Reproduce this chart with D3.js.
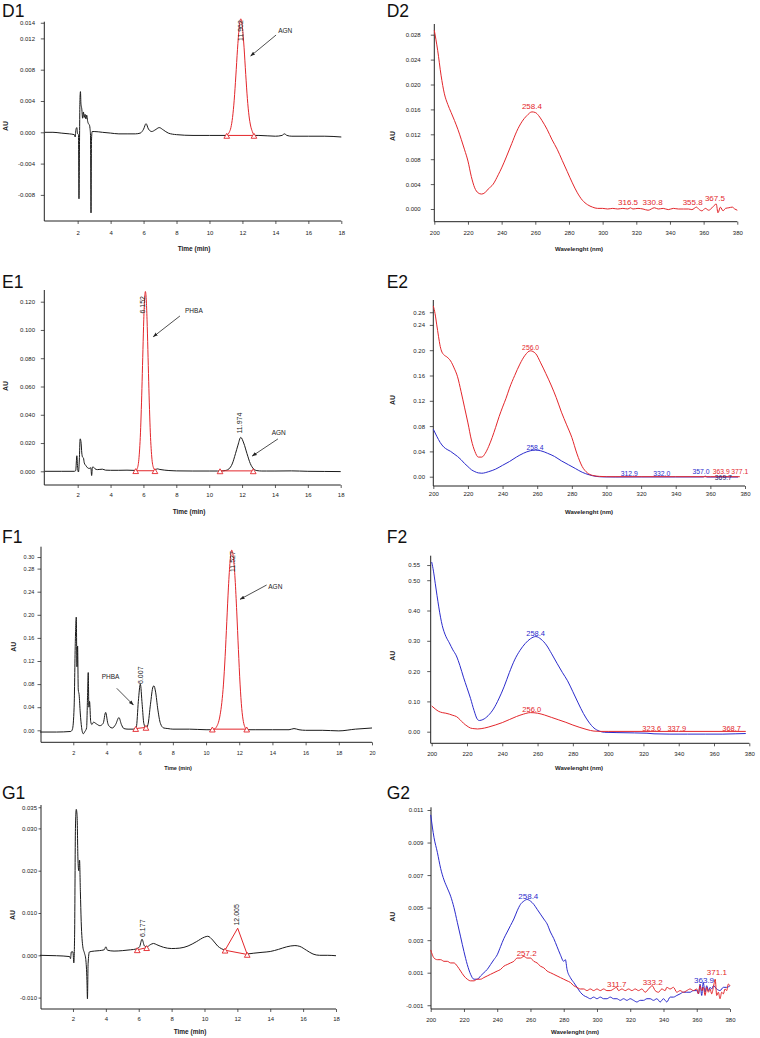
<!DOCTYPE html>
<html><head><meta charset="utf-8">
<script src="https://cdn.jsdelivr.net/npm/d3@7"></script>
<style>body{margin:0;background:#fff}svg{display:block}text{font-family:Arial,"Liberation Sans",sans-serif}</style>
</head><body><svg id="c" width="760" height="1038"></svg>
<script>
// ---------------- DATA ----------------
const chromTicks18 = [2,4,6,8,10,12,14,16,18];
const chromTicks20 = [2,4,6,8,10,12,14,16,18,20];
const specTicks = [200,220,240,260,280,300,320,340,360,380];
const specTickLabels = ["200","220","240","260","280","300","320","340","360","380"];

const d1YTicks = [0.014,0.012,0.008,0.004,0,-0.004,-0.008];
const d1YLabels = ["0.014","0.012","0.008","0.004","0.000","-0.004","-0.008"];
const d2YTicks = [0,0.004,0.008,0.012,0.016,0.020,0.024,0.028];
const d2YLabels = ["0.000","0.004","0.008","0.012","0.016","0.020","0.024","0.028"];
const e1YTicks = [0,0.02,0.04,0.06,0.08,0.10,0.12];
const e1YLabels = ["0.000","0.020","0.040","0.060","0.080","0.100","0.120"];
const e2YTicks = [0,0.04,0.08,0.12,0.16,0.20,0.24,0.26];
const e2YLabels = ["0.00","0.04","0.08","0.12","0.16","0.20","0.24","0.26"];
const f1YTicks = [0,0.04,0.08,0.12,0.16,0.20,0.24,0.28,0.30];
const f1YLabels = ["0.00","0.04","0.08","0.12","0.16","0.20","0.24","0.28","0.30"];
const f2YTicks = [0,0.1,0.2,0.3,0.4,0.5,0.55];
const f2YLabels = ["0.00","0.10","0.20","0.30","0.40","0.50","0.55"];
const g1YTicks = [-0.010,0,0.010,0.020,0.030,0.035];
const g1YLabels = ["-0.010","0.000","0.010","0.020","0.030","0.035"];
const g2YTicks = [-0.001,0.001,0.003,0.005,0.007,0.009,0.011];
const g2YLabels = ["-0.001","0.001","0.003","0.005","0.007","0.009","0.011"];

// D1 chromatogram (time min, AU)
const d1Black = [[0,0.0000],[0.5,0.0000],[1.0,-0.0001],[1.5,-0.0002],[1.8,-0.0003],[1.85,-0.0006],[1.9,0.0004],[1.95,0.0006],[2.0,-0.0002],[2.05,-0.0003],[2.08,-0.0085],[2.11,-0.0020],[2.14,0.0042],[2.17,0.0052],[2.2,0.0036],[2.25,0.0030],[2.3,0.0018],[2.35,0.0026],[2.4,0.0019],[2.45,0.0023],[2.5,0.0017],[2.55,0.0022],[2.6,0.0015],[2.65,0.0011],[2.7,0.0010],[2.75,0.0005],[2.78,-0.0004],[2.81,-0.0103],[2.84,-0.0010],[2.88,0.0001],[3.0,0.0001],[3.5,0.0000],[4.0,-0.0001],[4.5,-0.0002],[5.0,-0.0002],[5.5,-0.0002],[5.8,-0.0001],[6.0,0.0004],[6.15,0.0011],[6.3,0.0004],[6.5,0.0001],[6.7,0.0003],[6.95,0.0006],[7.2,0.0003],[7.5,-0.0001],[8,-0.0003],[9,-0.0004],[10,-0.0004],[11.0,-0.0004],[11.8,null],[12.7,-0.0004],[13,-0.0004],[14,-0.0005],[14.4,-0.0004],[14.55,-0.0002],[14.7,-0.0004],[15,-0.0005],[16,-0.0005],[17,-0.0005],[18,-0.0006]];
const d1Red = [[11.0,-0.0004],[11.1,-0.0003],[11.2,0.0000],[11.3,0.0006],[11.4,0.0019],[11.5,0.0041],[11.6,0.0072],[11.7,0.0106],[11.8,0.0133],[11.9,0.0145],[12.0,0.0134],[12.1,0.0108],[12.2,0.0074],[12.3,0.0043],[12.4,0.0021],[12.5,0.0008],[12.6,0.0001],[12.7,-0.0004]];
const d1Base = [[11.05,-0.0004],[12.7,-0.0004]];

// D2 spectrum (nm, AU)
const d2Red = [[200,0.0287],[202,0.0255],[204,0.0215],[206,0.0185],[208,0.0168],[210,0.0155],[212,0.0142],[214,0.0128],[216,0.0112],[218,0.0095],[220,0.0077],[222,0.0052],[224,0.0034],[226,0.0026],[228,0.0024],[230,0.0026],[232,0.0032],[235,0.0040],[238,0.0055],[240,0.0066],[243,0.0085],[246,0.0105],[249,0.0125],[252,0.0140],[255,0.0150],[258,0.0156],[260,0.0155],[262,0.0150],[264,0.0142],[267,0.0128],[270,0.0111],[273,0.0096],[276,0.0078],[279,0.0060],[282,0.0042],[285,0.0026],[288,0.0014],[291,0.0007],[294,0.0003],[297,0.0001],[300,0.0001],[303,0.0000],[306,0.0001],[309,0.0000],[312,0.0001],[315,0.0000],[316.5,0.0002],[318,0.0000],[321,0.0001],[324,0.0000],[327,-0.0002],[330.8,0.0002],[333,0.0000],[336,0.0001],[339,-0.0001],[342,0.0001],[345,0.0000],[348,0.0000],[351,0.0000],[353,-0.0001],[355.8,0.0003],[357,0.0000],[359,-0.0003],[361,0.0001],[363,-0.0002],[365,0.0002],[367.5,0.0008],[368.5,-0.0006],[370,0.0003],[371.5,-0.0003],[373,0.0001],[375,0.0002],[377,0.0003],[378.5,0.0000],[380,-0.0002]];
const d2Labels = [["258.4",258.0,0.0160,"r"],["316.5",315.1,0.00067,"r"],["330.8",329.7,0.00067,"r"],["355.8",353.5,0.00067,"r"],["367.5",366.7,0.0013,"r"]];

// E1 chromatogram
const e1Black = [[0,0.0000],[1.0,0.0000],[1.8,0.0000],[1.88,0.0005],[1.95,0.0110],[2.0,0.0020],[2.05,-0.0005],[2.1,0.0080],[2.15,0.0230],[2.2,0.0210],[2.25,0.0130],[2.3,0.0100],[2.35,0.0095],[2.4,0.0060],[2.5,0.0040],[2.6,0.0025],[2.7,0.0020],[2.8,0.0025],[2.85,-0.0030],[2.9,0.0030],[2.95,0.0030],[3.05,0.0018],[3.2,0.0012],[3.5,0.0015],[3.7,0.0008],[4,0.0007],[4.5,0.0007],[5,0.0008],[5.55,0.0006],[6.1,null],[6.7,0.0009],[6.85,0.0017],[7.0,0.0013],[7.3,0.0008],[7.8,0.0004],[8,0.0003],[9,0.0002],[10,0.0002],[10.5,0.0002],[10.8,0.0003],[11.0,0.0006],[11.2,0.0017],[11.4,0.0052],[11.6,0.0125],[11.75,0.0185],[11.92,0.0240],[12.1,0.0200],[12.3,0.0125],[12.5,0.0055],[12.7,0.0017],[12.9,0.0005],[13.2,0.0002],[13.5,0.0002],[14,0.0002],[15,0.0003],[16,0.0000],[17,-0.0001],[18,-0.0002]];
const e1Red = [[5.55,0.0006],[5.62,0.0018],[5.72,0.0082],[5.82,0.0272],[5.92,0.0637],[5.97,0.0862],[6.02,0.1072],[6.07,0.1218],[6.12,0.1272],[6.17,0.1218],[6.22,0.1072],[6.27,0.0862],[6.32,0.0637],[6.42,0.0272],[6.52,0.0085],[6.62,0.0022],[6.7,0.0009]];
const e1BaseA = [[5.53,0.0004],[6.70,0.0004]];
const e1BaseB = [[10.66,0.0003],[12.68,0.0003]];

// E2 spectra
const e2Red = [[200,0.270],[201,0.258],[202,0.240],[203,0.222],[204,0.206],[205,0.197],[206,0.193],[208,0.189],[210,0.183],[212,0.172],[214,0.158],[216,0.135],[218,0.110],[220,0.085],[222,0.058],[224,0.040],[226,0.031],[228,0.031],[230,0.037],[232,0.048],[234,0.062],[236,0.078],[238,0.095],[240,0.110],[242,0.124],[244,0.140],[247,0.160],[250,0.178],[253,0.192],[256,0.199],[259,0.195],[262,0.180],[265,0.163],[268,0.145],[271,0.125],[274,0.102],[277,0.082],[280,0.062],[283,0.036],[286,0.016],[289,0.006],[292,0.002],[296,0.0005],[300,0.000],[320,0.000],[340,0.000],[360,0.000],[377,0.000]];
const e2Blue = [[200,0.075],[202,0.064],[204,0.054],[206,0.047],[208,0.043],[210,0.040],[212,0.036],[214,0.032],[216,0.027],[218,0.021],[220,0.016],[222,0.011],[224,0.008],[226,0.006],[228,0.0055],[232,0.008],[236,0.012],[240,0.018],[244,0.024],[248,0.031],[252,0.037],[256,0.041],[259,0.042],[262,0.041],[266,0.037],[270,0.032],[274,0.025],[278,0.019],[282,0.013],[286,0.007],[290,0.003],[294,0.0005],[298,-0.0003],[305,-0.0005],[320,-0.0004],[340,-0.0004],[356,-0.0004],[357,0.001],[358,-0.0005],[376,-0.0005]];
const e2Labels = [["256.0",256.2,0.2003,"r"],["258.4",258.7,0.043,"b"],["312.9",313.2,0.0011,"b"],["332.0",331.9,0.0011,"b"],["357.0",354.6,0.005,"b"],["363.9",366.3,0.005,"r"],["377.1",377.0,0.005,"r"],["369.7",367.5,-0.0058,"n"]];

// F1 chromatogram
const f1Black = [[0,-0.003],[1,-0.003],[1.85,-0.002],[1.95,0.002],[2.05,0.040],[2.12,0.150],[2.18,0.196],[2.22,0.110],[2.26,0.146],[2.3,0.070],[2.35,0.062],[2.42,0.030],[2.5,0.005],[2.6,-0.006],[2.7,-0.002],[2.8,0.004],[2.86,0.060],[2.9,0.100],[2.94,0.040],[2.98,0.050],[3.05,0.015],[3.12,0.010],[3.22,0.014],[3.4,0.011],[3.6,0.008],[3.8,0.012],[3.95,0.031],[4.08,0.012],[4.2,0.006],[4.35,0.004],[4.55,0.010],[4.75,0.022],[4.9,0.010],[5.05,0.003],[5.3,0.002],[5.6,0.002],[5.8,0.006],[5.92,0.050],[6.04,0.080],[6.15,0.045],[6.25,0.012],[6.38,0.004],[6.5,0.010],[6.65,0.045],[6.8,0.075],[6.86,0.077],[6.95,0.068],[7.1,0.035],[7.25,0.012],[7.45,0.004],[7.7,0.003],[8,0.002],[9,0.002],[10,0.001],[10.4,0.001],[11.5,null],[12.45,0.001],[13,0.001],[14,0.001],[15,0.001],[15.3,0.003],[15.6,0.001],[16,0.000],[17,0.000],[18,-0.001],[19,0.002],[20,0.004]];
const f1Red = [[10.4,0.001],[10.55,0.003],[10.65,0.007],[10.75,0.014],[10.85,0.027],[10.95,0.048],[11.05,0.080],[11.15,0.128],[11.25,0.188],[11.35,0.248],[11.45,0.293],[11.55,0.312],[11.65,0.298],[11.75,0.262],[11.85,0.205],[11.95,0.140],[12.05,0.080],[12.15,0.038],[12.25,0.015],[12.35,0.005],[12.45,0.001]];
const f1BaseA = [[5.76,0.003],[6.38,0.005]];
const f1BaseB = [[10.38,0.002],[12.45,0.002]];

// F2 spectra
const f2Blue = [[200,0.560],[201,0.530],[202,0.490],[203,0.450],[204,0.412],[205,0.378],[206,0.350],[207,0.330],[208,0.315],[210,0.293],[212,0.270],[214,0.250],[216,0.218],[218,0.180],[220,0.145],[222,0.110],[224,0.070],[226,0.040],[227,0.037],[229,0.040],[232,0.053],[235,0.075],[238,0.108],[241,0.148],[244,0.195],[247,0.237],[250,0.268],[253,0.291],[256,0.307],[259,0.314],[262,0.305],[265,0.286],[268,0.257],[271,0.226],[274,0.196],[277,0.168],[280,0.132],[283,0.095],[286,0.060],[289,0.032],[292,0.012],[295,0.002],[298,-0.002],[305,-0.003],[315,-0.004],[322,-0.005],[326,-0.007],[335,-0.008],[345,-0.008],[355,-0.008],[365,-0.008],[372,-0.007],[378,-0.006]];
const f2Red = [[200,0.085],[202,0.075],[204,0.067],[206,0.063],[208,0.061],[210,0.058],[212,0.054],[214,0.050],[216,0.040],[218,0.028],[220,0.019],[222,0.012],[224,0.010],[226,0.009],[228,0.010],[232,0.015],[236,0.022],[240,0.030],[244,0.040],[248,0.050],[252,0.058],[256,0.063],[260,0.061],[264,0.055],[268,0.047],[272,0.039],[276,0.031],[280,0.022],[284,0.014],[288,0.007],[292,0.002],[296,0.001],[300,0.001],[340,0.001],[378,0.001]];
const f2Labels = [["258.4",258.9,0.316,"b"],["256.0",256.7,0.0657,"r"],["323.6",324.7,0.0023,"r"],["337.9",338.9,0.0023,"r"],["368.7",370.0,0.0023,"r"]];

// G1 chromatogram
const g1Black = [[0,0.0000],[1,-0.0001],[1.8,-0.0003],[1.85,-0.0008],[1.9,0.0008],[2.0,0.0008],[2.05,-0.0018],[2.1,0.0050],[2.15,0.0300],[2.2,0.0345],[2.25,0.0330],[2.3,0.0230],[2.35,0.0200],[2.4,0.0225],[2.45,0.0150],[2.5,0.0080],[2.6,0.0020],[2.7,0.0005],[2.78,-0.0010],[2.85,-0.0060],[2.88,-0.0103],[2.92,-0.0020],[3.0,0.0008],[3.3,0.0010],[3.6,0.0011],[3.9,0.0013],[4.0,0.0020],[4.1,0.0012],[4.5,0.0010],[5,0.0011],[5.5,0.0013],[5.85,0.0015],[6.05,0.0020],[6.2,0.0038],[6.35,0.0022],[6.5,0.0020],[6.7,0.0025],[6.9,0.0028],[7.1,0.0025],[7.5,0.0019],[8,0.0016],[8.5,0.0017],[9,0.0022],[9.5,0.0032],[10,0.0043],[10.2,0.0045],[10.5,0.0036],[10.8,0.0022],[11.25,0.0012],[12.0,null],[12.6,0.0003],[13,0.0005],[13.5,0.0007],[14,0.0009],[14.5,0.0014],[15,0.0020],[15.5,0.0023],[15.8,0.0021],[16.2,0.0012],[16.6,0.0003],[17,0.0000],[17.5,0.0000],[18,-0.0001]];
const g1Red = [[11.25,0.0012],[12.02,0.0064],[12.6,0.0002]];
const g1BaseA = [[5.91,0.0013],[6.48,0.0018]];
const g1BaseB = [[11.25,0.0012],[12.6,0.0002]];

// G2 spectra
const g2Blue = [[200,0.0107],[202,0.0093],[204,0.0084],[206,0.0074],[208,0.0067],[210,0.0062],[212,0.0057],[214,0.0050],[216,0.0041],[218,0.0032],[220,0.0023],[222,0.0015],[224,0.0009],[226,0.0006],[228,0.0006],[230,0.0008],[232,0.0010],[234,0.0012],[236,0.0015],[238,0.0018],[240,0.0021],[242,0.0026],[244,0.0031],[246,0.0035],[248,0.0039],[250,0.0043],[252,0.0048],[254,0.0052],[256,0.0054],[258,0.0055],[260,0.0054],[262,0.0052],[264,0.0049],[266,0.0046],[268,0.0043],[270,0.0040],[272,0.0035],[274,0.0031],[276,0.0026],[278,0.0021],[280,0.0017],[281,0.0018],[282,0.0012],[284,0.0007],[286,0.0004],[288,0.0001],[290,-0.0002],[292,-0.0004],[294,-0.0005],[296,-0.0006],[298,-0.0005],[300,-0.0006],[302,-0.0005],[304,-0.0006],[306,-0.0006],[308,-0.0005],[310,-0.0006],[312,-0.0006],[314,-0.0007],[316,-0.0006],[318,-0.0007],[320,-0.0006],[322,-0.0007],[324,-0.0008],[326,-0.0007],[328,-0.0007],[330,-0.0006],[332,-0.0006],[334,-0.0007],[336,-0.0006],[338,-0.0008],[340,-0.0006],[342,-0.0008],[344,-0.0005],[346,-0.0005],[348,-0.0004],[350,-0.0003],[352,-0.0002],[354,-0.0002],[356,-0.0002],[358,-0.0001],[360,-0.0001],[361,-0.0003],[362,0.0003],[363,-0.0004],[363.9,0.0004],[365,-0.0002],[366,0.0002],[367,-0.0001],[368,0.0001],[369,0.0000],[370,0.0002],[372,0.0000],[374,-0.0001],[376,0.0001],[378,0.0001],[380,0.0002]];
const g2Red = [[200,0.0024],[201,0.0021],[202,0.0019],[204,0.0018],[206,0.0018],[208,0.0017],[210,0.0017],[212,0.0016],[214,0.0016],[216,0.0014],[218,0.0011],[220,0.0008],[222,0.0006],[224,0.0005],[226,0.0005],[228,0.0006],[230,0.0006],[232,0.0007],[234,0.0008],[236,0.0009],[238,0.0010],[240,0.0011],[242,0.0012],[244,0.0014],[246,0.0015],[248,0.0016],[250,0.0017],[252,0.0019],[254,0.0019],[256,0.0020],[258,0.0019],[260,0.0019],[262,0.0017],[264,0.0016],[266,0.0014],[268,0.0013],[270,0.0011],[272,0.0010],[274,0.0009],[276,0.0008],[278,0.0007],[280,0.0006],[282,0.0005],[284,0.0004],[286,0.0002],[288,0.0001],[290,0.0000],[292,0.0000],[294,-0.0001],[296,0.0000],[298,-0.0001],[300,0.0000],[302,-0.0001],[304,0.0000],[306,-0.0001],[308,-0.0001],[310,0.0000],[311.7,0.0001],[313,-0.0001],[315,0.0000],[317,-0.0001],[319,0.0000],[321,-0.0001],[323,0.0000],[325,-0.0001],[327,0.0000],[329,-0.0002],[331,0.0000],[333.2,0.0002],[335,-0.0001],[337,-0.0002],[339,0.0000],[341,-0.0001],[342,0.0001],[344,0.0000],[346,0.0001],[348,-0.0002],[350,-0.0001],[352,-0.0002],[354,-0.0001],[356,0.0000],[358,-0.0001],[360,0.0000],[361,-0.0003],[362,0.0002],[363,-0.0001],[364,0.0001],[365,-0.0004],[366,0.0001],[367,-0.0002],[368,0.0000],[369,-0.0003],[370,0.0001],[371.1,0.0006],[372,-0.0004],[373,-0.0002],[374,-0.0006],[375,-0.0002],[376,-0.0003],[377,0.0000],[378,-0.0001],[379,0.0003],[380,0.0002]];
const g2Labels = [["258.4",258.7,0.00556,"b"],["257.2",257.7,0.00203,"r"],["311.7",311.9,0.00013,"r"],["333.2",333.5,0.00024,"r"],["363.9",364.4,0.00038,"b"],["371.1",372.1,0.00083,"r"]];

// peak retention labels [text, x, y]
const d1Rt = [["11.962",12.03,0.01167]];
const e1Rt = [["6.152",6.11,0.1116],["11.974",12.0,0.0267]];
const f1Rt = [["6.007",6.18,0.0802],["11.527",11.76,0.274]];
const g1Rt = [["6.177",6.36,0.00433],["12.005",12.12,0.00704]];

// compound annotations [text, textX, textY, arrowX1, arrowY1, arrowX2, arrowY2]
const d1Ann = [["AGN",14.17,0.01269,14.04,0.01243,12.50,0.00975]];
const e1Ann = [["PHBA",8.53,0.1123,8.22,0.1099,6.60,0.0952],["AGN",13.80,0.0257,14.18,0.0229,12.62,0.0108]];
const f1Ann = [["PHBA",3.71,0.0888,4.62,0.0727,5.62,0.0438],["AGN",13.75,0.2455,13.65,0.2516,12.05,0.2268]];

// ---------------- DRAW ----------------
const RED = "#e3262b", BLUE = "#2b2bcc", NAVY = "#1d1d6e", INK = "#1a1a1a";
const colorOf = {r:RED, b:BLUE, n:NAVY};
const svg = d3.select("#c");
svg.append("rect").attr("width",760).attr("height",1038).attr("fill","#fff");
svg.append("defs").append("marker").attr("id","ah").attr("viewBox","0 0 10 10")
  .attr("refX",9).attr("refY",5).attr("markerWidth",5).attr("markerHeight",5)
  .attr("markerUnits","userSpaceOnUse").attr("orient","auto")
  .append("path").attr("d","M0,1.5L10,5L0,8.5Z").attr("fill","#222");

function drawPanel(p){
  const g = svg.append("g");
  const x = d3.scaleLinear().domain(p.xd).range(p.xr);
  const y = d3.scaleLinear().domain(p.yd).range(p.yr);
  const tl = p.tickLen || 3.5;
  g.append("text").attr("x",p.letter[0]).attr("y",p.letter[1]).attr("font-size",17.5).attr("fill","#111").text(p.key);
  // y axis
  const yMinorVals = d3.range(p.yMinor[0], p.yMinor[1]+p.yMinor[2]/2, p.yMinor[2]);
  const ya = g.append("g").attr("transform",`translate(${p.ax},0)`);
  ya.call(d3.axisLeft(y).tickValues(yMinorVals).tickSize(2).tickFormat(""));
  ya.call(d3.axisLeft(y).tickValues(p.yT).tickSize(tl).tickPadding(p.ax - p.yLabRight - tl).tickFormat((d,i)=>p.yL[i]));
  ya.selectAll(".domain").remove();
  ya.selectAll("line").attr("stroke","#333").attr("stroke-width",0.8);
  ya.selectAll("text").attr("font-size",p.tickFs).attr("fill","#222").attr("font-family","Arial, Liberation Sans, sans-serif");
  g.append("line").attr("x1",p.ax).attr("x2",p.ax).attr("y1",p.top).attr("y2",p.bottom).attr("stroke","#222").attr("stroke-width",1);
  // x axis
  const xa = g.append("g").attr("transform",`translate(0,${p.bottom})`);
  const xMinorVals = d3.range(p.xMinor[0], p.xMinor[1]+p.xMinor[2]/2, p.xMinor[2]);
  xa.call(d3.axisBottom(x).tickValues(xMinorVals).tickSize(2).tickFormat(""));
  xa.call(d3.axisBottom(x).tickValues(p.xT).tickSize(3).tickPadding(p.xLabY - p.bottom - 3 - p.tickFs*0.36).tickFormat((d,i)=>p.xL[i]));
  xa.selectAll(".domain").remove();
  xa.selectAll("line").attr("stroke","#333").attr("stroke-width",0.8);
  xa.selectAll("text").attr("font-size",p.tickFs).attr("fill","#222").attr("font-family","Arial, Liberation Sans, sans-serif");
  g.append("line").attr("x1",p.ax).attr("x2",p.right).attr("y1",p.bottom).attr("y2",p.bottom).attr("stroke","#222").attr("stroke-width",1);
  // axis titles
  g.append("text").attr("x",p.title[1]).attr("y",p.title[2]).attr("text-anchor","middle")
    .attr("font-size",p.title[3]).attr("font-weight","bold").attr("fill","#222").text(p.title[0]);
  g.append("text").attr("transform",`translate(${p.au[0]},${p.au[1]}) rotate(-90)`).attr("text-anchor","middle")
    .attr("dy","0.35em").attr("font-size",7).attr("font-weight","bold").attr("fill","#222").text("AU");
  // traces
  (p.traces||[]).forEach(t=>{
    const line = d3.line().defined(d=>d[1]!==null).x(d=>x(d[0])).y(d=>y(d[1]))
      .curve(t.linear ? d3.curveLinear : d3.curveMonotoneX);
    g.append("path").datum(t.data).attr("d",line).attr("fill","none")
      .attr("stroke",t.color).attr("stroke-width",t.w||1).attr("stroke-linejoin","round");
  });
  // integration baselines with triangle markers
  (p.bases||[]).forEach(b=>{
    g.append("path").datum(b).attr("d",d3.line().x(d=>x(d[0])).y(d=>y(d[1]))).attr("stroke",RED).attr("stroke-width",1).attr("fill","none");
    g.selectAll(null).data(b).join("path")
      .attr("transform",d=>`translate(${x(d[0])},${y(d[1])+1.2})`)
      .attr("d",d3.symbol(d3.symbolTriangle,14)).attr("fill","#fff").attr("stroke",RED).attr("stroke-width",0.9);
  });
  // retention labels (rotated)
  (p.rt||[]).forEach(r=>{
    g.append("text").attr("transform",`translate(${x(r[1])},${y(r[2])}) rotate(-90)`)
      .attr("font-size",7).attr("fill","#222").text(r[0]);
  });
  // annotations
  (p.ann||[]).forEach(a=>{
    g.append("text").attr("x",x(a[1])).attr("y",y(a[2])).attr("font-size",6.5).attr("fill","#222").text(a[0]);
    g.append("line").attr("x1",x(a[3])).attr("y1",y(a[4])).attr("x2",x(a[5])).attr("y2",y(a[6]))
      .attr("stroke","#222").attr("stroke-width",0.8).attr("marker-end","url(#ah)");
  });
  // spectral labels
  (p.labels||[]).forEach(l=>{
    g.append("text").attr("x",x(l[1])).attr("y",y(l[2])).attr("text-anchor","middle")
      .attr("font-size",p.labFs).attr("fill",colorOf[l[3]]).text(l[0]);
  });
}

const chromX18 = {xT:chromTicks18, xL:chromTicks18.map(String), xMinor:[1,18,1]};
const specX = {xT:specTicks, xL:specTickLabels, xMinor:[200,380,10]};

const panels = [
 Object.assign({key:"D1", letter:[2,16.7], xd:[0,18], xr:[44.7,341.3], yd:[0,0.012], yr:[132.3,38.4],
  ax:44.3, top:21.7, bottom:221, right:341.3, yT:d1YTicks, yL:d1YLabels, yMinor:[-0.011,0.014,0.001],
  yLabRight:35, xLabY:233.3, tickFs:6, title:["Time (min)",194,251,6.5], au:[6,126],
  traces:[{data:d1Black,color:INK},{data:d1Red,color:RED}], bases:[d1Base], rt:d1Rt, ann:d1Ann}, chromX18),
 Object.assign({key:"D2", letter:[386.7,16.7], xd:[200,380], xr:[434.3,737.3], yd:[0,0.028], yr:[209,34.7],
  ax:434.3, top:24, bottom:221.7, right:737.3, yT:d2YTicks, yL:d2YLabels, yMinor:[-0.002,0.029,0.001],
  yLabRight:420.7, xLabY:232.7, tickFs:6, title:["Wavelenght (nm)",579,251,6], au:[392.7,136],
  traces:[{data:d2Red,color:RED}], labels:d2Labels, labFs:8}, specX),
 Object.assign({key:"E1", letter:[2,288], xd:[0,18], xr:[44.8,340.7], yd:[0,0.12], yr:[471.3,301.7],
  ax:44.3, top:290, bottom:485, right:340.7, yT:e1YTicks, yL:e1YLabels, yMinor:[-0.005,0.125,0.005],
  yLabRight:35, xLabY:495, tickFs:6, title:["Time (min)",189,514,6.5], au:[6,386],
  traces:[{data:e1Black,color:INK},{data:e1Red,color:RED}], bases:[e1BaseA,e1BaseB], rt:e1Rt, ann:e1Ann}, chromX18),
 Object.assign({key:"E2", letter:[386.7,288], xd:[200,380], xr:[433.3,745], yd:[0,0.20], yr:[476.7,350.2],
  ax:433.3, top:300, bottom:486, right:745, yT:e2YTicks, yL:e2YLabels, yMinor:[-0.01,0.27,0.01],
  yLabRight:425, xLabY:494.3, tickFs:6, title:["Wavelenght (nm)",589,514,6], au:[392.7,400],
  traces:[{data:e2Blue,color:BLUE},{data:e2Red,color:RED}], labels:e2Labels, labFs:6.8}, specX),
 {key:"F1", letter:[2,543], xd:[0,20], xr:[40.1,372], yd:[0,0.28], yr:[730.3,568.6],
  ax:41, top:546.7, bottom:742.3, right:372, yT:f1YTicks, yL:f1YLabels, yMinor:[-0.02,0.30,0.02],
  yLabRight:34.3, xLabY:753.3, tickFs:5.5, title:["Time (min)",178,770,5.5], au:[13.3,646.7],
  xT:chromTicks20, xL:chromTicks20.map(String), xMinor:[1,20,1],
  traces:[{data:f1Black,color:INK},{data:f1Red,color:RED}], bases:[f1BaseA,f1BaseB], rt:f1Rt, ann:f1Ann},
 Object.assign({key:"F2", letter:[386.7,543], xd:[200,380], xr:[431.7,749.3], yd:[0,0.5], yr:[731.7,580.2],
  ax:430.7, top:555.7, bottom:743.3, right:749.3, yT:f2YTicks, yL:f2YLabels, yMinor:[-0.05,0.55,0.05],
  yLabRight:420, xLabY:754.3, tickFs:6, title:["Wavelenght (nm)",579,770,6], au:[392.7,655.7],
  traces:[{data:f2Blue,color:BLUE},{data:f2Red,color:RED}], labels:f2Labels, labFs:7.5}, specX),
 Object.assign({key:"G1", letter:[2,798.7], xd:[0,18], xr:[40.1,336], yd:[0,0.03], yr:[955.3,828.4],
  ax:41, top:805, bottom:1009, right:336, yT:g1YTicks, yL:g1YLabels, yMinor:[-0.0125,0.035,0.0025],
  yLabRight:37, tickLen:2.5, xLabY:1019.3, tickFs:6, title:["Time (min)",190,1034,6.5], au:[13,915],
  traces:[{data:g1Black,color:INK},{data:g1Red,color:RED,linear:true}], bases:[g1BaseA,g1BaseB], rt:g1Rt}, chromX18),
 Object.assign({key:"G2", letter:[386.7,798.7], xd:[200,380], xr:[430.7,730], yd:[0.001,0.011], yr:[972.7,810],
  ax:431, top:807.3, bottom:1009, right:730, yT:g2YTicks, yL:g2YLabels, yMinor:[-0.001,0.011,0.0005],
  yLabRight:423.3, xLabY:1020, tickFs:6, title:["Wavelenght (nm)",575,1034,6], au:[392.3,916.7],
  traces:[{data:g2Blue,color:BLUE},{data:g2Red,color:RED}], labels:g2Labels, labFs:8}, specX)
];
panels.forEach(drawPanel);
</script></body></html>
